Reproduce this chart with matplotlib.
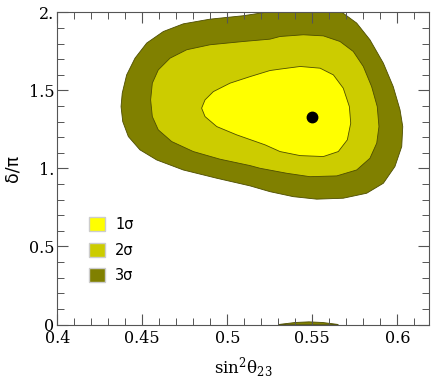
import numpy as np
import matplotlib
matplotlib.use('Agg')
import matplotlib.pyplot as plt
from matplotlib.patches import Patch

plt.rcParams['mathtext.fontset'] = 'dejavuserif'

# contour boundaries: (sin^2 theta23, delta/pi)
s3_x = [0.4375, 0.4382, 0.4408, 0.4457, 0.4526, 0.4624, 0.4741, 0.4898, 0.5094, 0.5232,
        0.5451, 0.5673, 0.5761, 0.5839, 0.5918, 0.5976, 0.6016, 0.6032, 0.6026, 0.5986,
        0.5918, 0.5820, 0.5682, 0.5526, 0.5388, 0.5251, 0.5134, 0.4938, 0.4741, 0.4585,
        0.4486, 0.4418, 0.4385]
s3_y = [1.396, 1.482, 1.599, 1.706, 1.803, 1.877, 1.926, 1.956, 1.978, 2.001,
        2.112, 2.001, 1.931, 1.824, 1.674, 1.524, 1.375, 1.268, 1.140, 1.012,
        0.905, 0.841, 0.809, 0.803, 0.819, 0.851, 0.888, 0.937, 0.990, 1.054,
        1.119, 1.204, 1.300]
s2_x = [0.4549, 0.4559, 0.4594, 0.4663, 0.4761, 0.4898, 0.5094, 0.5251, 0.5310, 0.5447,
        0.5565, 0.5663, 0.5741, 0.5800, 0.5849, 0.5882, 0.5892, 0.5879, 0.5839, 0.5761,
        0.5644, 0.5486, 0.5349, 0.5192, 0.5134, 0.4957, 0.4800, 0.4673, 0.4594, 0.4559]
s2_y = [1.439, 1.546, 1.631, 1.706, 1.760, 1.792, 1.813, 1.828, 1.845, 1.856,
        1.849, 1.813, 1.749, 1.653, 1.524, 1.396, 1.268, 1.162, 1.065, 0.990,
        0.952, 0.947, 0.969, 1.001, 1.018, 1.059, 1.108, 1.172, 1.247, 1.332]
s1_x = [0.4849, 0.4869, 0.4918, 0.5016, 0.5134, 0.5251, 0.5310, 0.5429, 0.5546, 0.5624,
        0.5682, 0.5718, 0.5726, 0.5706, 0.5653, 0.5565, 0.5428, 0.5310, 0.5222, 0.5055,
        0.4938, 0.4869]
s1_y = [1.386, 1.439, 1.492, 1.546, 1.588, 1.627, 1.636, 1.653, 1.642, 1.599,
        1.514, 1.396, 1.290, 1.183, 1.108, 1.076, 1.082, 1.108, 1.151, 1.215,
        1.268, 1.332]
# wrapped piece of the 3 sigma region near delta = 0
blob_x = [0.5301, 0.5400, 0.5480, 0.5560, 0.5654]
blob_y = [0.0, 0.013, 0.017, 0.013, 0.0]
best_x, best_y = 0.5496, 1.328

c1, c2, c3 = '#ffff00', '#cccc00', '#808000'
edge = '#4d4d00'

fig = plt.figure(figsize=(4.36, 3.82), dpi=100)
ax = fig.add_axes([0.1314, 0.1505, 0.852, 0.8173])
ax.fill(s3_x, s3_y, fc=c3, ec=edge, lw=0.6)
ax.fill(blob_x, blob_y, fc=c3, ec=edge, lw=0.6)
ax.fill(s2_x, s2_y, fc=c2, ec=edge, lw=0.6)
ax.fill(s1_x, s1_y, fc=c1, ec=edge, lw=0.6)
ax.plot(best_x, best_y, 'o', color='black', ms=7.5)

ax.set_xlim(0.4, 0.6185); ax.set_ylim(0, 2)
ax.set_xticks([0.4, 0.45, 0.5, 0.55, 0.6])
ax.set_xticklabels(['0.4', '0.45', '0.5', '0.55', '0.6'])
ax.set_yticks([0, 0.5, 1, 1.5, 2])
ax.set_yticklabels(['0', '0.5', '1.', '1.5', '2.'])
ax.set_xticks(np.arange(0.4, 0.62, 0.01), minor=True)
ax.set_yticks(np.arange(0, 2.01, 0.1), minor=True)
ax.tick_params(which='both', direction='in', top=True, right=True, color='#555555',
               labelsize=11.5)
ax.tick_params(axis='x', pad=4)
ax.tick_params(axis='y', pad=2)
ax.tick_params(which='major', length=8, width=0.8)
ax.tick_params(which='minor', length=5, width=0.7)
for lb in ax.get_xticklabels() + ax.get_yticklabels():
    lb.set_family('DejaVu Serif')
for sp in ax.spines.values():
    sp.set_color('#555555'); sp.set_linewidth(0.8)

ax.set_xlabel('sin$^2$θ$_{23}$', fontsize=12, family='DejaVu Serif', labelpad=6)
ax.set_ylabel('δ/π', fontsize=12.5, family='DejaVu Sans', labelpad=5)

hs = [Patch(fc=c1, ec='#cccccc', label='1σ'),
      Patch(fc=c2, ec='#cccccc', label='2σ'),
      Patch(fc=c3, ec='#cccccc', label='3σ')]
ax.legend(handles=hs, loc='upper left', bbox_to_anchor=(0.05, 0.385), frameon=False,
          fontsize=10.5, handlelength=1.1, handleheight=1.1, labelspacing=0.7,
          handletextpad=0.7)

fig.savefig('out.png', dpi=100)
